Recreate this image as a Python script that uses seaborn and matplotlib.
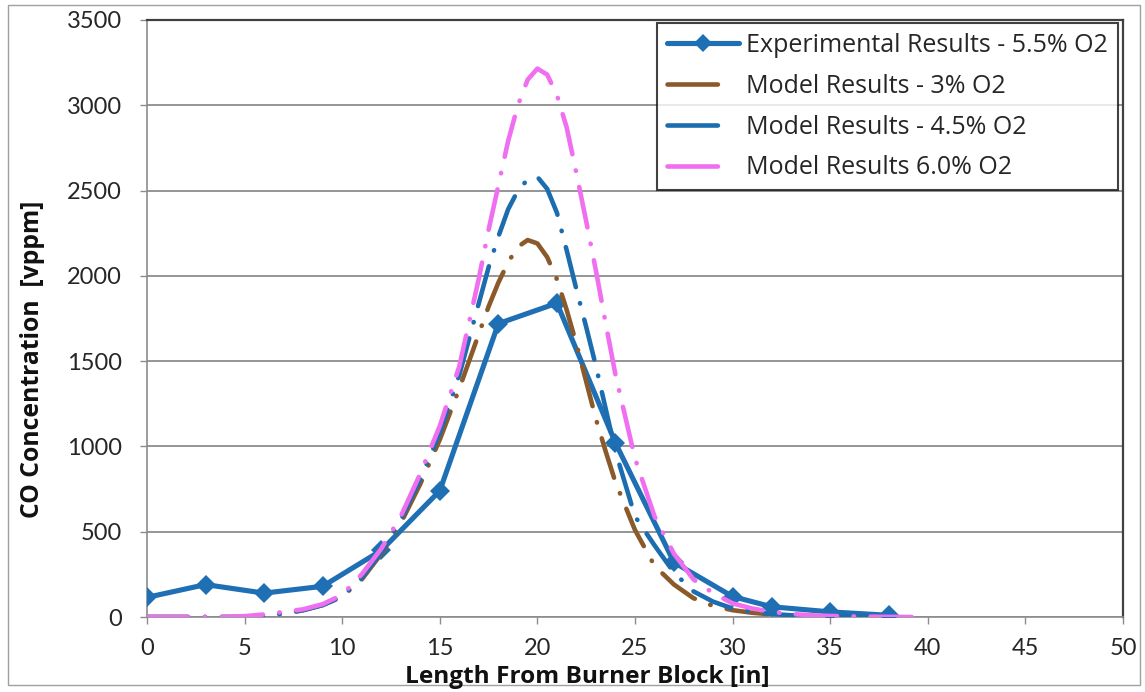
import matplotlib
matplotlib.use("Agg")
import matplotlib.pyplot as plt
from matplotlib.lines import Line2D
from matplotlib.patches import Rectangle
import seaborn as sns
import pandas as pd

# ---------------- data ----------------
exp_x = [0, 3, 6, 9, 12, 15, 18, 21, 24, 27, 30, 32, 35, 38]
exp_y = [115, 190, 140, 180, 390, 740, 1720, 1840, 1020, 320, 120, 60, 30, 10]

model_x = [0, 1, 2, 3, 4, 5, 6, 7, 8, 9, 10, 11, 12, 13, 14, 15, 16,
           17, 17.5, 18, 18.5, 19, 19.5, 20, 20.5, 21, 21.5, 22, 22.5, 23, 23.5,
           24, 25, 26, 27, 28, 29, 30, 31, 32, 33, 34, 35, 36, 37, 38, 39, 40]
model_3 = [0, 0, 0, 0, 0, 0, 8, 20, 40, 70, 120, 220, 370, 550, 780, 1040, 1340,
           1660, 1820, 1960, 2080, 2170, 2210, 2190, 2110, 1980, 1800, 1600, 1380, 1160, 970,
           790, 510, 300, 190, 110, 65, 40, 25, 15, 8, 4, 2, 1, 0, None, None, None]
model_45 = [0, 0, 0, 0, 0, 0, 8, 20, 40, 70, 120, 230, 380, 570, 810, 1080, 1420,
            1840, 2050, 2230, 2390, 2500, 2565, 2580, 2510, 2370, 2150, 1920, 1700, 1470, 1220,
            970, 590, 420, 260, 150, 90, 50, 30, 18, 10, 6, 3, 2, 1, 0, None, None]
model_60 = [0, 0, 0, 0, 0, 5, 15, 30, 45, 75, 130, 250, 400, 590, 840, 1120, 1470,
            1985, 2270, 2530, 2790, 3000, 3150, 3215, 3180, 3060, 2870, 2600, 2320, 2030, 1720,
            1420, 930, 590, 370, 220, 140, 80, 50, 30, 18, 10, 6, 4, 2, 1, 0, 0]

labels = ["Experimental Results - 5.5% O2", "Model Results - 3% O2",
          "Model Results - 4.5% O2", "Model Results 6.0% O2"]
x_ticks = [0, 5, 10, 15, 20, 25, 30, 35, 40, 45, 50]
y_ticks = [0, 500, 1000, 1500, 2000, 2500, 3000, 3500]

# ---------------- style ----------------
sns.set_theme(style="white")
plt.rcParams["font.family"] = ["Lato", "DejaVu Sans"]

C_EXP = "#1f6fb4"
C_3 = "#8b5a2b"
C_45 = "#1c6daf"
C_60 = "#f06ef0"
TXT = "#262626"

W, H = 1145, 692
fig = plt.figure(figsize=(W / 100, H / 100), dpi=100)
ax = fig.add_axes([147 / W, 1 - 617 / H, (1123 - 147) / W, (617 - 20) / H])

LW = 3.3
DASH = (9, 3.6, 0.1, 3.6)

df_exp = pd.DataFrame({"x": exp_x, "y": exp_y})
sns.lineplot(data=df_exp, x="x", y="y", ax=ax, color=C_EXP, lw=LW + 0.4,
             marker="D", markersize=10, markeredgewidth=0, estimator=None,
             sort=False, zorder=3)

for vals, col in [(model_3, C_3), (model_45, C_45), (model_60, C_60)]:
    d = pd.DataFrame({"x": model_x, "y": vals}).dropna()
    sns.lineplot(data=d, x="x", y="y", ax=ax, color=col, lw=LW,
                 estimator=None, sort=False, zorder=4)
    ln = ax.lines[-1]
    ln.set_dashes(DASH)
    ln.set_dash_capstyle("round")
    ln.set_solid_capstyle("round")
    ln.set_solid_joinstyle("round")
    ln.set_dash_joinstyle("round")

ax.set_xlim(0, 50)
ax.set_ylim(0, 3500)
ax.set_xticks(x_ticks)
ax.set_yticks(y_ticks)
ax.yaxis.grid(True, color="#8c8c8c", lw=1.3)
ax.xaxis.grid(False)
ax.set_axisbelow(True)

ax.tick_params(axis="both", which="major", direction="out", length=5, width=1,
               color="#8c8c8c", labelsize=17, labelcolor=TXT)
ax.tick_params(axis="x", pad=10)
ax.tick_params(axis="y", pad=13)
ax.xaxis.set_ticks_position("bottom")
ax.yaxis.set_ticks_position("left")

for s in ["left", "bottom"]:
    ax.spines[s].set_color("#8c8c8c")
    ax.spines[s].set_linewidth(1.2)
for s in ["top", "right"]:
    ax.spines[s].set_color("#404040")
    ax.spines[s].set_linewidth(1.6)

ax.set_xlabel("")
ax.set_ylabel("")
lab_font = ["Open Sans", "DejaVu Sans"]
fig.text(587 / W, 1 - 677 / H, "Length From Burner Block [in]", ha="center",
         va="center", fontsize=17.6, fontweight="bold", color="#111111",
         family=lab_font)
fig.text(33 / W, 1 - 359 / H, "CO Concentration  [vppm]", ha="center",
         va="center", rotation=90, fontsize=17.8, fontweight="bold",
         color="#111111", family=lab_font)

# legend with proxy handles
handles = [
    Line2D([], [], color=C_EXP, lw=LW + 0.4, marker="D", markersize=9,
           markeredgewidth=0),
    Line2D([], [], color=C_3, lw=LW, dashes=(11, 30), dash_capstyle="round"),
    Line2D([], [], color=C_45, lw=LW, dashes=(11, 30), dash_capstyle="round"),
    Line2D([], [], color=C_60, lw=LW, dashes=(11, 30), dash_capstyle="round"),
]
leg = fig.legend(handles, labels, loc="upper right",
                 bbox_to_anchor=(1118 / W, 1 - 23 / H),
                 bbox_transform=fig.transFigure, frameon=True, fancybox=False,
                 borderaxespad=0, prop={"family": ["Open Sans", "DejaVu Sans"], "size": 18},
                 handlelength=2.9, handletextpad=0.28, labelspacing=0.63,
                 borderpad=0.4, numpoints=1)
leg.get_frame().set_edgecolor("#111111")
leg.get_frame().set_linewidth(1.5)
for t in leg.get_texts():
    t.set_color(TXT)

# outer chart border
fig.add_artist(Rectangle((8 / W, 1 - 685 / H), (1140 - 8) / W, (685 - 5) / H,
                         transform=fig.transFigure, fill=False,
                         edgecolor="#a0a0a0", lw=1.0))

fig.savefig("out.png", dpi=100, facecolor="white")
